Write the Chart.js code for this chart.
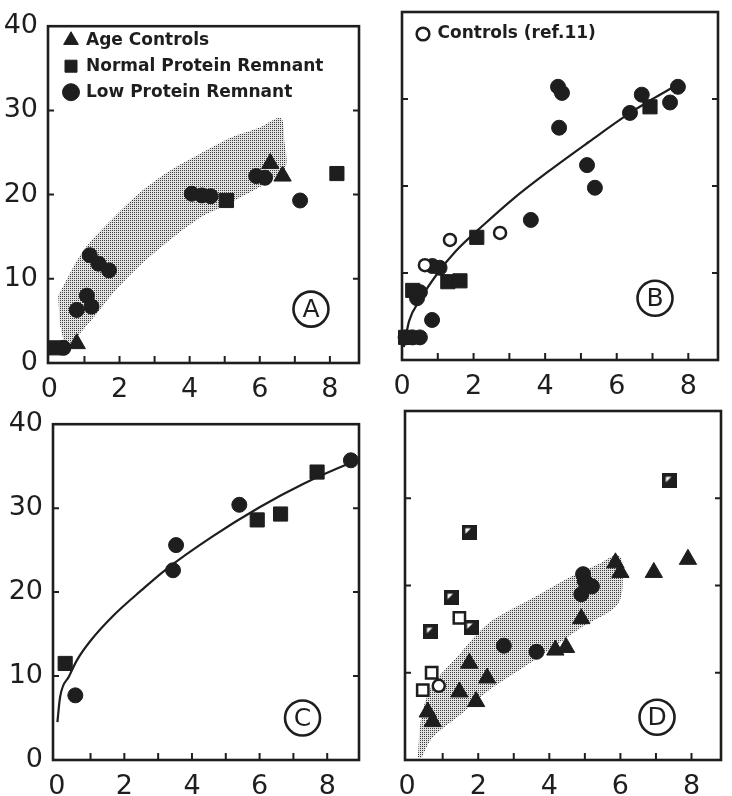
<!DOCTYPE html>
<html>
<head>
<meta charset="utf-8">
<script src="https://cdn.jsdelivr.net/npm/chart.js@4.4.0/dist/chart.umd.min.js"></script>
<style>
  body { margin: 0; background: #fff; width: 732px; height: 796px; position: relative; overflow: hidden; }
  canvas { position: absolute; }
</style>
</head>
<body>
<canvas id="panelA" width="370" height="400" style="left:0;top:0"></canvas>
<canvas id="panelB" width="362" height="400" style="left:370px;top:0"></canvas>
<canvas id="panelC" width="370" height="398" style="left:0;top:398px"></canvas>
<canvas id="panelD" width="362" height="398" style="left:370px;top:398px"></canvas>
<script>
// ---- data ----
const xTicks = [0, 2, 4, 6, 8];
const yTicks = [0, 10, 20, 30, 40];
const legendLabels = ['Age Controls', 'Normal Protein Remnant', 'Low Protein Remnant', 'Controls (ref.11)'];

// panel A
const ageA_x = [0.78, 6.3, 6.65];
const ageA_y = [2.3, 23.7, 22.2];
const normA_x = [0.15, 5.05, 8.2];
const normA_y = [1.8, 19.3, 22.5];
const lowA_x = [0.4, 0.78, 1.07, 1.2, 1.15, 1.4, 1.7, 4.06, 4.35, 4.6, 5.9, 6.15, 7.15];
const lowA_y = [1.8, 6.3, 8.0, 6.7, 12.8, 11.8, 11.0, 20.1, 19.9, 19.8, 22.2, 22.0, 19.3];
const bandA_x = [0.25, 0.96, 1.72, 2.57, 3.5, 4.27, 5.2, 5.96, 6.6, 6.7, 6.7, 5.2, 4.27, 2.85, 1.9, 1.16, 0.5, 0.3];
const bandA_y = [8.0, 13.3, 16.8, 20.2, 23.0, 24.8, 26.8, 27.9, 29.1, 26.4, 23.0, 19.1, 17.2, 12.6, 8.7, 4.9, 2.2, 4.5];

// panel B
const lowB_x = [0.1, 0.3, 0.5, 0.42, 0.5, 0.84, 0.85, 1.05, 3.6, 4.36, 4.47, 4.39, 5.17, 5.39, 6.37, 6.7, 7.49, 7.71];
const lowB_y = [2.6, 2.6, 2.6, 7.1, 7.8, 4.6, 10.8, 10.6, 16.1, 31.4, 30.7, 26.7, 22.4, 19.8, 28.4, 30.5, 29.6, 31.4];
const normB_x = [0.1, 0.3, 1.28, 1.62, 2.09, 6.93];
const normB_y = [2.6, 8.0, 9.0, 9.1, 14.1, 29.1];
const ctrlB_x = [0.64, 1.34, 2.74];
const ctrlB_y = [10.9, 13.8, 14.6];
const curveB_x = [0.05, 0.2, 0.5, 1.0, 1.5, 2.3, 3.1, 4.1, 5.2, 6.3, 7.0, 7.55];
const curveB_y = [1.5, 4.5, 6.9, 10.0, 12.5, 15.6, 18.5, 21.7, 25.0, 28.2, 30.0, 31.3];

// panel C
const lowC_x = [0.55, 3.44, 3.53, 5.4, 8.7];
const lowC_y = [7.7, 22.6, 25.6, 30.4, 35.7];
const normC_x = [0.25, 5.93, 6.62, 7.7];
const normC_y = [11.5, 28.6, 29.3, 34.3];
const curveC_x = [0.02, 0.1, 0.37, 0.6, 1.0, 1.7, 2.5, 3.2, 4.6, 6.0, 7.3, 8.7, 8.9];
const curveC_y = [4.5, 7.5, 10.0, 11.9, 14.2, 17.3, 20.2, 22.6, 26.6, 30.1, 32.9, 35.4, 35.7];

// panel D
const notchD_x = [0.67, 1.25, 1.75, 1.8, 7.39];
const notchD_y = [14.7, 18.6, 26.1, 15.2, 32.0];
const openSqD_x = [0.44, 0.69, 1.47];
const openSqD_y = [8.0, 10.0, 16.3];
const openCircD_x = [0.89];
const openCircD_y = [8.5];
const lowD_x = [2.72, 3.64, 4.9, 5.0, 5.2, 4.95];
const lowD_y = [13.1, 12.4, 19.0, 20.5, 19.9, 21.3];
const ageD_x = [0.58, 0.72, 1.47, 1.94, 1.75, 2.25, 4.17, 4.47, 4.9, 5.86, 6.0, 6.94, 7.9];
const ageD_y = [5.5, 4.4, 7.8, 6.7, 11.1, 9.4, 12.6, 12.9, 16.2, 22.6, 21.5, 21.5, 23.0];
const bandD_x = [0.3, 0.4, 0.7, 1.4, 2.3, 3.6, 4.6, 5.4, 5.9, 6.05, 5.95, 4.9, 3.6, 2.3, 1.56, 0.72, 0.4];
const bandD_y = [0.3, 5.0, 8.5, 11.8, 15.7, 18.7, 21.0, 22.5, 23.5, 22.8, 18.0, 15.2, 11.5, 8.0, 5.4, 2.6, 0.2];

// ---- styling helpers ----
const ink = '#1e1e1e';
const fontFamily = '"DejaVu Sans", sans-serif';

function pts(xs, ys) {
  return xs.map((x, i) => ({ x: x, y: ys[i] }));
}

// fine dot screen for the shaded ranges
function stipple() {
  const c = document.createElement('canvas');
  c.width = 2; c.height = 2;
  const g = c.getContext('2d');
  g.fillStyle = '#e2e2e2';
  g.fillRect(0, 0, 2, 2);
  g.fillStyle = '#3c3c3c';
  g.fillRect(0, 0, 1, 1);
  return g.createPattern(c, 'repeat');
}

function notchedSquare() {
  const c = document.createElement('canvas');
  c.width = 15; c.height = 15;
  const g = c.getContext('2d');
  g.fillStyle = ink;
  g.fillRect(0, 0, 15, 15);
  g.fillStyle = '#fff';
  g.beginPath();
  g.moveTo(3.5, 3.5); g.lineTo(9, 3.5); g.lineTo(3.5, 9);
  g.closePath();
  g.fill();
  return c;
}

function marks(label, xs, ys, style, radius, hollow, inLegend) {
  return {
    label: label,
    data: pts(xs, ys),
    pointStyle: style,
    pointRadius: radius,
    pointHoverRadius: radius,
    backgroundColor: hollow ? '#fff' : ink,
    borderColor: ink,
    borderWidth: hollow ? 2.5 : 1,
    inLegend: !!inLegend,
    clip: false,
    order: 0
  };
}

function curve(xs, ys) {
  return {
    label: 'fit',
    data: pts(xs, ys),
    showLine: true,
    pointRadius: 0,
    borderColor: ink,
    borderWidth: 2.2,
    cubicInterpolationMode: 'monotone',
    fill: false,
    order: 2
  };
}

function band(xs, ys) {
  return {
    label: 'range',
    data: pts(xs, ys),
    showLine: true,
    pointRadius: 0,
    borderColor: 'rgba(0,0,0,0)',
    borderWidth: 1,
    backgroundColor: stipple(),
    fill: 'shape',
    tension: 0.3,
    order: 3
  };
}

// frame round the plot with inward tick marks
const framePlugin = {
  id: 'frame',
  beforeDatasetsDraw(chart) {
    const { ctx, chartArea: a, scales: { x, y } } = chart;
    ctx.save();
    ctx.strokeStyle = ink;
    ctx.lineWidth = 2.6;
    ctx.strokeRect(a.left, a.top, a.right - a.left, a.bottom - a.top);
    ctx.lineWidth = 2;
    ctx.beginPath();
    for (let v = 1; v <= Math.floor(x.max); v++) {
      const px = x.getPixelForValue(v);
      ctx.moveTo(px, a.bottom);
      ctx.lineTo(px, a.bottom - 7);
    }
    for (let i = 1; i < yTicks.length - 1; i++) {
      const py = y.getPixelForValue(yTicks[i]);
      ctx.moveTo(a.left, py); ctx.lineTo(a.left + 6, py);
      ctx.moveTo(a.right, py); ctx.lineTo(a.right - 6, py);
    }
    ctx.stroke();
    ctx.restore();
  }
};

// circled panel letter
const letterPlugin = {
  id: 'panelLetter',
  afterDatasetsDraw(chart, args, opts) {
    const { ctx, scales: { x, y } } = chart;
    const cx = x.getPixelForValue(opts.x);
    const cy = y.getPixelForValue(opts.y);
    ctx.save();
    ctx.strokeStyle = ink;
    ctx.lineWidth = 2.6;
    ctx.beginPath();
    ctx.arc(cx, cy, 17.5, 0, Math.PI * 2);
    ctx.stroke();
    ctx.fillStyle = ink;
    ctx.font = '25px ' + fontFamily;
    ctx.textAlign = 'center';
    ctx.textBaseline = 'middle';
    ctx.fillText(opts.text, cx, cy + 1);
    ctx.restore();
  }
};

// put the in-plot legend where the figure has it
const legendShift = {
  id: 'legendShift',
  afterLayout(chart, args, opts) {
    if (chart.legend && opts.x !== undefined) {
      chart.legend.left = chart.chartArea.left + opts.x;
      chart.legend.top = chart.chartArea.top + opts.y;
    }
  }
};

function makePanel(id, p) {
  return new Chart(document.getElementById(id), {
    type: 'scatter',
    data: { datasets: p.datasets },
    options: {
      responsive: false,
      animation: false,
      layout: { padding: p.pad },
      plugins: {
        tooltip: { enabled: false },
        legend: p.legend ? {
          display: true,
          position: 'chartArea',
          align: 'start',
          labels: {
            usePointStyle: true,
            boxWidth: p.legend.box,
            boxHeight: p.legend.boxH,
            padding: 9,
            color: ink,
            font: { family: fontFamily, size: 17, weight: 'bold' },
            filter: (item, data) => data.datasets[item.datasetIndex].inLegend
          }
        } : { display: false },
        legendShift: p.legend ? p.legend.shift : {},
        panelLetter: p.letter
      },
      scales: {
        x: {
          type: 'linear',
          min: p.xMin,
          max: p.xMax,
          afterFit: s => { s.height = p.xH; },
          afterBuildTicks: s => { s.ticks = xTicks.map(v => ({ value: v })); },
          grid: { display: false, drawTicks: false },
          border: { display: false },
          ticks: {
            color: ink,
            autoSkip: false,
            maxRotation: 0,
            padding: 11,
            font: { family: fontFamily, size: 27 }
          }
        },
        y: {
          type: 'linear',
          min: 0,
          max: 40,
          afterFit: s => { s.width = p.yW; },
          afterBuildTicks: s => { s.ticks = yTicks.map(v => ({ value: v })); },
          grid: { display: false, drawTicks: false },
          border: { display: false },
          ticks: {
            display: p.yLabels,
            color: ink,
            padding: 10,
            font: { family: fontFamily, size: 27 }
          }
        }
      }
    },
    plugins: [framePlugin, letterPlugin, legendShift]
  });
}

const notch = notchedSquare();

makePanel('panelA', {
  pad: { top: 15, right: 8, left: 0, bottom: 0 },
  xMin: -0.04, xMax: 8.83, xH: 37, yW: 48, yLabels: true,
  legend: { box: 13, boxH: 12, shift: { x: 7.5, y: -3.5 } },
  letter: { text: 'A', x: 7.46, y: 6.4 },
  datasets: [
    marks(legendLabels[0], ageA_x, ageA_y, 'triangle', 10, false, true),
    marks(legendLabels[1], normA_x, normA_y, 'rect', 10, false, true),
    marks(legendLabels[2], lowA_x, lowA_y, 'circle', 7.5, false, true),
    band(bandA_x, bandA_y)
  ]
});

makePanel('panelB', {
  pad: { top: 12, right: 14, left: 0, bottom: 0 },
  xMin: 0, xMax: 8.83, xH: 40, yW: 32, yLabels: false,
  legend: { box: 12, boxH: 9, shift: { x: 6, y: 4.5 } },
  letter: { text: 'B', x: 7.07, y: 7.1 },
  datasets: [
    marks(legendLabels[3], ctrlB_x, ctrlB_y, 'circle', 6, true, true),
    marks(legendLabels[1], normB_x, normB_y, 'rect', 10, false, false),
    marks(legendLabels[2], lowB_x, lowB_y, 'circle', 7.5, false, false),
    curve(curveB_x, curveB_y)
  ]
});

makePanel('panelC', {
  pad: { top: 15, right: 2, left: 0, bottom: 0 },
  xMin: -0.11, xMax: 8.94, xH: 36, yW: 53, yLabels: true,
  legend: null,
  letter: { text: 'C', x: 7.27, y: 5.0 },
  datasets: [
    marks(legendLabels[1], normC_x, normC_y, 'rect', 10, false, false),
    marks(legendLabels[2], lowC_x, lowC_y, 'circle', 7.5, false, false),
    curve(curveC_x, curveC_y)
  ]
});

makePanel('panelD', {
  pad: { top: 13, right: 7, left: 0, bottom: 0 },
  xMin: -0.06, xMax: 8.83, xH: 36, yW: 35, yLabels: false,
  legend: null,
  letter: { text: 'D', x: 7.03, y: 4.9 },
  datasets: [
    marks('Normal Protein Remnant (ref.11)', notchD_x, notchD_y, notch, 7.5, false, false),
    marks('Controls (ref.11) squares', openSqD_x, openSqD_y, 'rect', 8, true, false),
    marks(legendLabels[3], openCircD_x, openCircD_y, 'circle', 6, true, false),
    marks(legendLabels[2], lowD_x, lowD_y, 'circle', 7.5, false, false),
    marks(legendLabels[0], ageD_x, ageD_y, 'triangle', 10, false, false),
    band(bandD_x, bandD_y)
  ]
});
</script>
</body>
</html>
